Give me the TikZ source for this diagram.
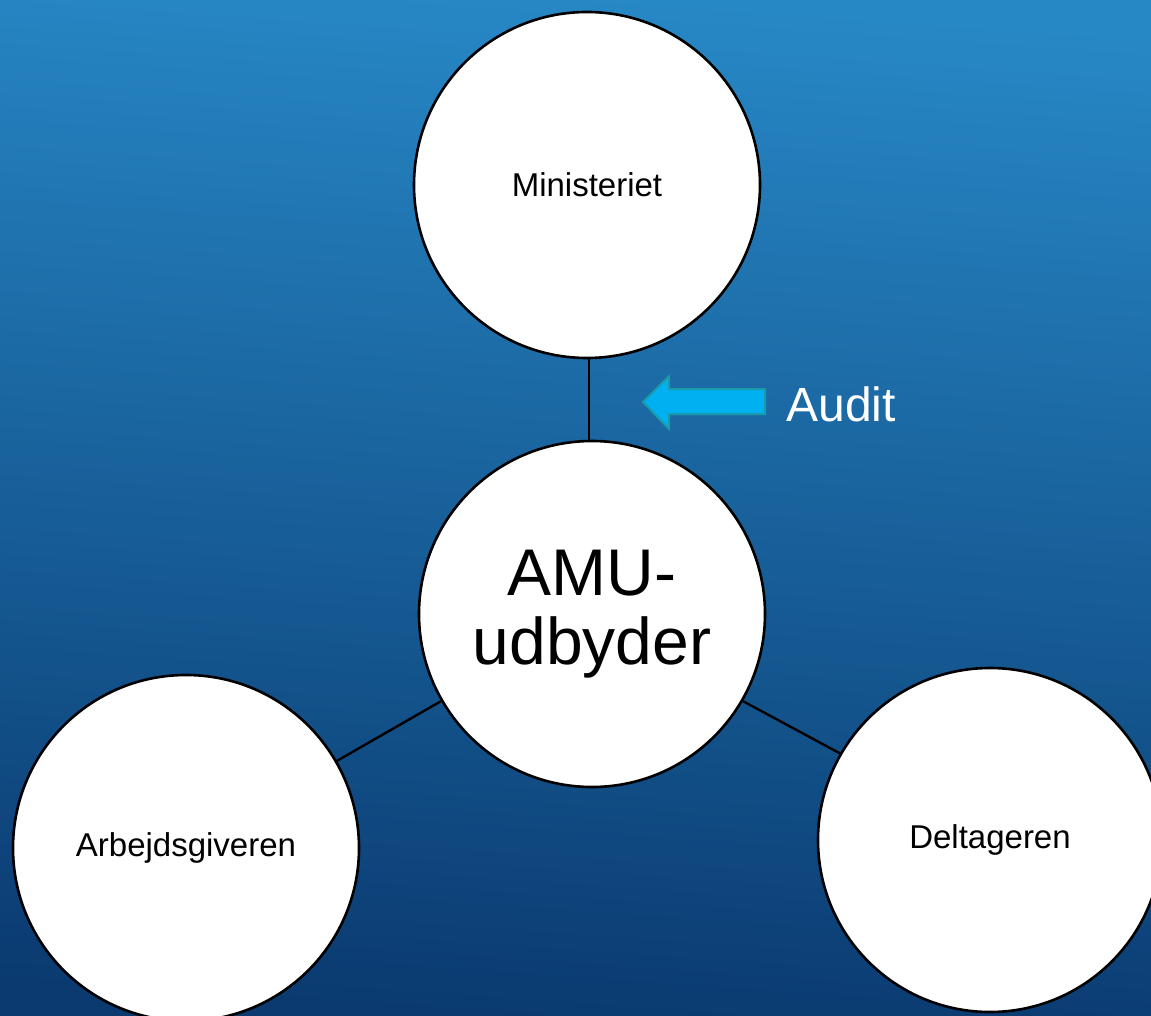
\documentclass[tikz,border=0pt]{standalone}
\usepackage{fontspec}
\setmainfont{Liberation Sans}
\definecolor{bgtop}{RGB}{39,136,198}
\definecolor{bgbot}{RGB}{10,58,112}
\definecolor{arrowfill}{RGB}{0,176,240}
\definecolor{arrowline}{RGB}{24,155,170}
\begin{document}
\begin{tikzpicture}[x=1pt,y=-1pt,
  ball/.style={circle,draw=black,fill=white,line width=2.6pt,minimum size=#1,inner sep=0pt,align=center},
  link/.style={draw=black,line width=2.4pt},
  small/.style={font=\fontsize{33}{36}\selectfont}]
\useasboundingbox (0,0) rectangle (1151,1016);
\shade[top color=bgtop,bottom color=bgbot,shading angle=-4] (-2,-2) rectangle (1153,1018);
\coordinate (l1) at (589,400);
\node[ball=346pt,small] (min) at (587,185) {Ministeriet};
\node[ball=346pt,font=\fontsize{66}{69}\selectfont] (amu) at (592,614) {AMU-\\udbyder};
\node[ball=346pt,small] (arb) at (186,848) {Arbejdsgiveren};
\node[ball=344pt,small] (del) at (990,840) {Deltageren};
\draw[link] (amu.210) -- (arb.30);
\draw[link] (amu.330) -- (del.150);
\draw[link] (min.south -| l1) -- (amu.north -| l1);
\draw[fill=arrowfill,draw=arrowline,line width=2pt]
  (643,402) -- (669,376) -- (669,389) -- (765,389) -- (765,414) -- (669,414) -- (669,429) -- cycle;
\node[font=\fontsize{48}{52}\selectfont,text=white,anchor=west] (audit) at (783,404) {Audit};
\end{tikzpicture}
\end{document}
